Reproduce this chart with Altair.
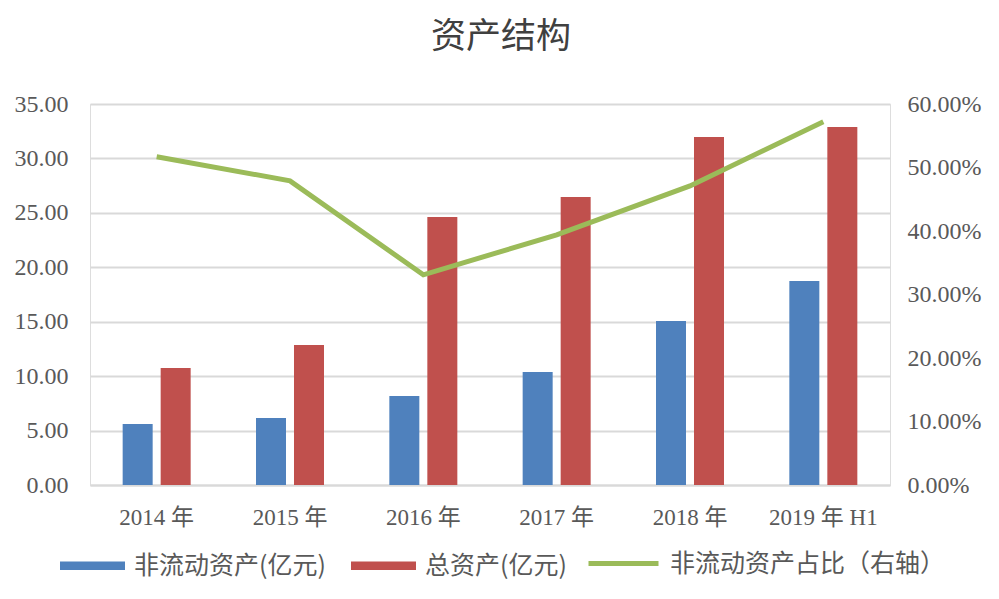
import altair as alt
import pandas as pd

years = ["2014 年", "2015 年", "2016 年", "2017 年", "2018 年", "2019 年 H1"]
non_current = [5.60, 6.15, 8.18, 10.38, 15.07, 18.74]
total_assets = [10.75, 12.86, 24.62, 26.46, 31.97, 32.89]
ratio = [0.517, 0.479, 0.331, 0.394, 0.471, 0.572]

S1 = "非流动资产(亿元)"
S2 = "总资产(亿元)"
S3 = "非流动资产占比（右轴）"
bar_colors = ["#4F81BD", "#C0504D"]
line_color = "#9BBB59"

left_ticks = [0, 5, 10, 15, 20, 25, 30, 35]
right_ticks = [0, 0.1, 0.2, 0.3, 0.4, 0.5, 0.6]

bars_df = pd.DataFrame({
    "year": years * 2,
    "series": [S1] * len(years) + [S2] * len(years),
    "value": non_current + total_assets,
})
line_df = pd.DataFrame({"year": years, "series": [S3] * len(years), "ratio": ratio})

NUM_FONT = "Liberation Serif, Noto Sans CJK SC"
CJK_FONT = "Noto Sans CJK SC"
TXT = "#595959"

RECT = "M-1,-0.13L1,-0.13L1,0.13L-1,0.13Z"

bar_legend = alt.Legend(
    orient="none", legendX=-30, legendY=429, direction="horizontal", title=None,
    symbolSize=4225, symbolType=RECT, symbolStrokeWidth=0, symbolOpacity=1,
    labelFont=CJK_FONT, labelFontSize=25, labelColor=TXT, labelOffset=9,
    labelLimit=0, columnPadding=25,
)
line_legend = alt.Legend(
    orient="none", legendX=496, legendY=422, direction="horizontal", title=None,
    symbolSize=4900, symbolType="stroke", symbolStrokeWidth=5,
    labelFont=CJK_FONT, labelFontSize=25, labelColor=TXT, labelOffset=9,
    labelLimit=0,
)

x_enc = alt.X(
    "year:N", sort=years,
    scale=alt.Scale(paddingInner=0.49, paddingOuter=0.245),
    axis=alt.Axis(title=None, labelAngle=0, labelFont=NUM_FONT, labelFontSize=23,
                  labelColor=TXT, labelPadding=21, ticks=False,
                  domainColor="#d9d9d9", domainWidth=2),
)

bars = alt.Chart(bars_df).mark_bar().encode(
    x=x_enc,
    xOffset=alt.XOffset("series:N", sort=[S1, S2],
                        scale=alt.Scale(paddingInner=0.2105, paddingOuter=0)),
    y=alt.Y("value:Q", scale=alt.Scale(domain=[0, 35], nice=False),
            axis=alt.Axis(title=None, values=left_ticks, format=".2f",
                          labelFont=NUM_FONT, labelFontSize=24, labelColor=TXT,
                          labelPadding=22, ticks=False, domain=False,
                          gridColor="#d9d9d9", gridWidth=2)),
    fill=alt.Fill("series:N", scale=alt.Scale(domain=[S1, S2], range=bar_colors),
                  legend=bar_legend),
)

line = alt.Chart(line_df).mark_line(strokeWidth=5).encode(
    x=alt.X("year:N", sort=years),
    y=alt.Y("ratio:Q", scale=alt.Scale(domain=[0, 0.6], nice=False),
            axis=alt.Axis(title=None, orient="right", values=right_ticks, format=".2%",
                          labelFont=NUM_FONT, labelFontSize=24, labelColor=TXT,
                          labelPadding=17, ticks=False, domain=False, grid=False)),
    stroke=alt.Stroke("series:N", scale=alt.Scale(domain=[S3], range=[line_color]),
                      legend=line_legend),
)

chart = alt.layer(bars, line).resolve_scale(y="independent").properties(
    width=800, height=381,
    padding={"left": 90, "top": 104, "right": 109, "bottom": 114},
    autosize=alt.AutoSizeParams(type="none"),
    title=alt.TitleParams("资产结构", font=CJK_FONT, fontSize=35, fontWeight="normal",
                          color="#404040", anchor="middle", offset=37, dx=11),
).configure_view(stroke=None).configure(background="white")

chart.save("out.html", embed_options={"renderer": "svg", "actions": False})
